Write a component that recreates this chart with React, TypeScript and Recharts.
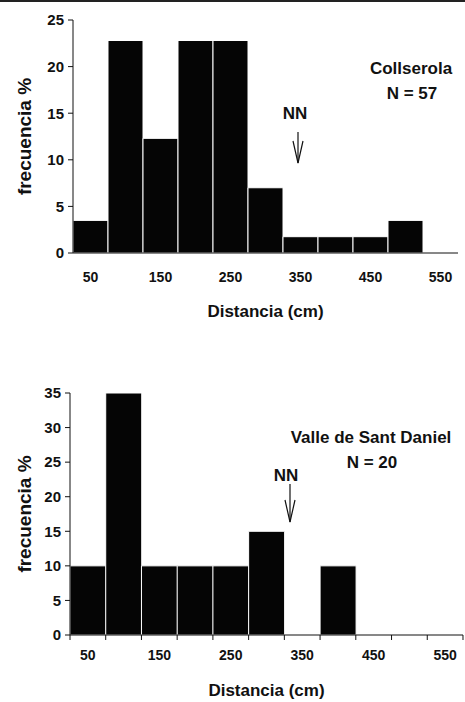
import React from "react";
import { BarChart, Bar, XAxis, YAxis } from "recharts";

const FONT = "'Liberation Sans', Arial, sans-serif";
const INK = "#111";

// distance bins (cm), labelled every other one
const categories = ["50", "100", "150", "200", "250", "300", "350", "400", "450", "500", "550"];
const collserolaPct = [3.5, 22.8, 12.3, 22.8, 22.8, 7.0, 1.75, 1.75, 1.75, 3.5, 0];
const santDanielPct = [10, 35, 10, 10, 10, 15, 0, 10, 0, 0, 0];
const collserolaTicks = [0, 5, 10, 15, 20, 25];
const santDanielTicks = [0, 5, 10, 15, 20, 25, 30, 35];

const topData = categories.map((c, i) => ({ bin: c, pct: collserolaPct[i] }));
const bottomData = categories.map((c, i) => ({ bin: c, pct: santDanielPct[i] }));

const DistTick = ({ x, y, payload, index, bw, gap, marks }: any) => {
  const show = categories.indexOf(payload.value) % 2 === 0;
  return (
    <g>
      {marks && index === 0 && (
        <line x1={x - bw / 2} x2={x - bw / 2} y1={y} y2={y + 5} stroke={INK} />
      )}
      {marks && <line x1={x + bw / 2} x2={x + bw / 2} y1={y} y2={y + 5} stroke={INK} />}
      {show && (
        <text
          x={x}
          y={y + gap}
          dy="0.71em"
          textAnchor="middle"
          fontSize={14}
          fontWeight="bold"
          fontFamily={FONT}
          fill={INK}
        >
          {payload.value}
        </text>
      )}
    </g>
  );
};

const yTick = { fontSize: 15, fontWeight: "bold", fill: INK, fontFamily: FONT };
const labelStyle = { fontSize: 17, fontWeight: "bold", fill: INK, fontFamily: FONT };

function Histogram({ data, ticks, width, height, margin, yWidth, xHeight, bw, gap, marks, xOffset }: any) {
  return (
    <BarChart width={width} height={height} data={data} margin={margin} barCategoryGap={0}>
      <XAxis
        dataKey="bin"
        interval={0}
        height={xHeight}
        tickSize={0}
        tickMargin={0}
        stroke={INK}
        tick={<DistTick bw={bw} gap={gap} marks={marks} />}
        label={{ value: "Distancia (cm)", position: "insideBottom", offset: xOffset, style: labelStyle }}
      />
      <YAxis
        width={yWidth}
        domain={[0, ticks[ticks.length - 1]]}
        ticks={ticks}
        interval={0}
        tickSize={5}
        tickMargin={4}
        stroke={INK}
        tick={yTick}
        label={{
          value: "frecuencia %",
          angle: -90,
          position: "insideLeft",
          offset: 24,
          style: { ...labelStyle, fontSize: 19, textAnchor: "middle" },
        }}
      />
      <Bar dataKey="pct" fill="#050505" stroke="#fff" strokeWidth={1} isAnimationActive={false} />
    </BarChart>
  );
}

export default function App() {
  return (
    <div style={{ position: "absolute", left: 0, top: 0, width: 465, height: 702, background: "#fff" }}>
      <div style={{ position: "absolute", left: 0, top: 0, width: 465, height: 2, background: "#222" }} />
      <div style={{ position: "absolute", left: 0, top: 0 }}>
        <Histogram
          data={topData}
          ticks={collserolaTicks}
          width={465}
          height={340}
          margin={{ top: 20, right: 7, bottom: 17, left: 0 }}
          yWidth={73}
          xHeight={70}
          bw={35}
          gap={19}
          marks={false}
          xOffset={6}
        />
      </div>
      <div style={{ position: "absolute", left: 0, top: 340 }}>
        <Histogram
          data={bottomData}
          ticks={santDanielTicks}
          width={465}
          height={362}
          margin={{ top: 53, right: 2, bottom: 7, left: 0 }}
          yWidth={70}
          xHeight={60}
          bw={35.7}
          gap={15}
          marks={true}
          xOffset={-1}
        />
      </div>
      <svg
        width={465}
        height={702}
        style={{ position: "absolute", left: 0, top: 0, pointerEvents: "none" }}
        fontFamily={FONT}
        fontWeight="bold"
        fontSize={17}
        fill={INK}
      >
        <text x={411} y={74} textAnchor="middle">Collserola</text>
        <text x={412} y={99} textAnchor="middle">N = 57</text>
        <text x={295} y={119} textAnchor="middle">NN</text>
        <g stroke={INK} strokeWidth={1.2} fill="none">
          <line x1={298} y1={132} x2={298} y2={163} />
          <polyline points="293,141 298,163 303,141" />
        </g>
        <text x={371} y={443} textAnchor="middle">Valle de Sant Daniel</text>
        <text x={372} y={468} textAnchor="middle">N = 20</text>
        <text x={286} y={481} textAnchor="middle">NN</text>
        <g stroke={INK} strokeWidth={1.2} fill="none">
          <line x1={290} y1={484} x2={290} y2={522} />
          <polyline points="285,500 290,522 295,500" />
        </g>
      </svg>
    </div>
  );
}
